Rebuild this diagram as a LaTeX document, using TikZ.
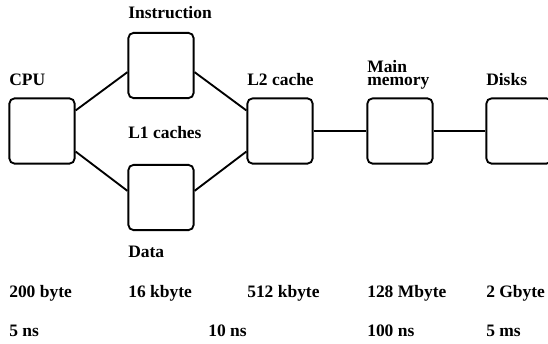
\documentclass[tikz,border=0pt]{standalone}
\usepackage{fontspec}
\setmainfont{Liberation Serif}
\begin{document}
\begin{tikzpicture}[x=0.75pt,y=-0.75pt,
  unit/.style={draw,line width=1.4pt,rounded corners=4pt,minimum width=49pt,minimum height=49pt,inner sep=0pt},
  link/.style={line width=1.4pt},
  lbl/.style={anchor=base west,inner sep=0pt,font=\fontsize{13.1pt}{13.1pt}\selectfont\bfseries}]
\useasboundingbox (0,0) rectangle (548,343);
\clip (0,0) rectangle (548,343);
% storage units
\node[unit] (cpu)  at (42,131)  {};
\node[unit] (ins)  at (161,65.5) {};
\node[unit] (dat)  at (161,197.5) {};
\node[unit] (l2)   at (280,131) {};
\node[unit] (mem)  at (400,131) {};
\node[unit] (disk) at (519,131) {};
% connections
\draw[link] ([yshift=15.4pt]cpu.east) -- ([yshift=-5pt]ins.west);
\draw[link] ([yshift=-15.4pt]cpu.east) -- ([yshift=5pt]dat.west);
\draw[link] ([yshift=-5pt]ins.east) -- ([yshift=15.4pt]l2.west);
\draw[link] ([yshift=5pt]dat.east) -- ([yshift=-15.4pt]l2.west);
\draw[link] (l2) -- (mem);
\draw[link] (mem) -- (disk);
% unit names
\node[lbl] (tcpu) at (9,85) {CPU};
\node[lbl] (tins) at (128,18.5) {Instruction};
\node[lbl] (tl1)  at (128,138) {L1 caches};
\node[lbl] (tdat) at (128,257.5) {Data};
\node[lbl] (tl2)  at (247,85) {L2 cache};
\node[lbl,font=\fontsize{13.1pt}{9.75pt}\selectfont\bfseries,align=left] (tmm) at (367,85) {Main\\memory};
\node[lbl] (tdsk) at (486,85) {Disks};
% sizes
\node[lbl] (s1) at (9,297) {200 byte};
\node[lbl] (s2) at (128,297) {16 kbyte};
\node[lbl] (s3) at (247,297) {512 kbyte};
\node[lbl] (s4) at (367,297) {128 Mbyte};
\node[lbl] (s5) at (486,297) {2 Gbyte};
% access times
\node[lbl] (a1) at (9,336) {5 ns};
\node[lbl] (a2) at (208,336) {10 ns};
\node[lbl] (a3) at (367,336) {100 ns};
\node[lbl] (a4) at (486,336) {5 ms};
\end{tikzpicture}
\end{document}
